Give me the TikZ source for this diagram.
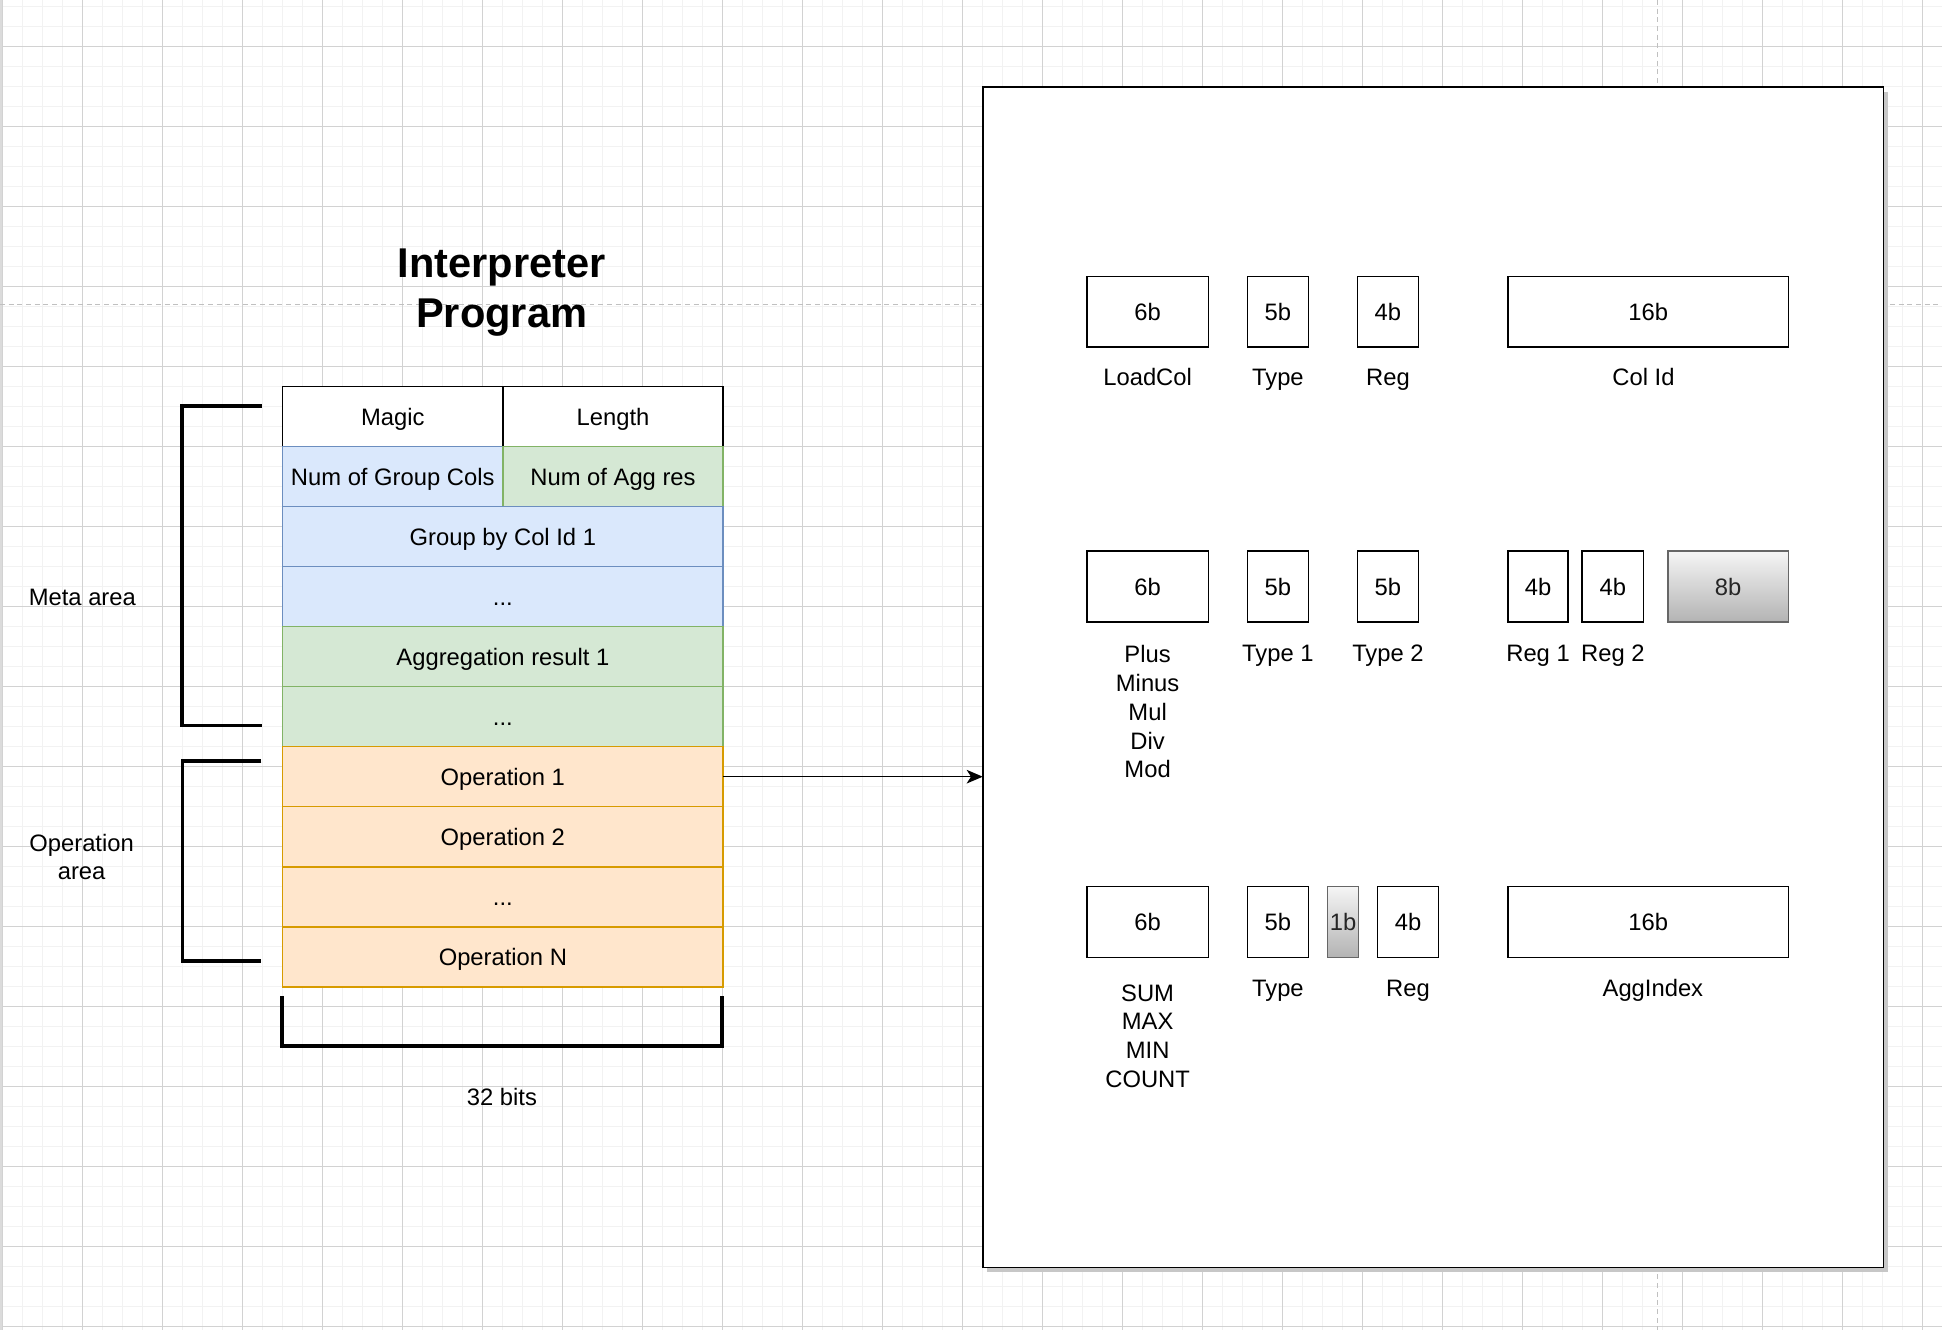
\documentclass[tikz,border=0pt]{standalone}
\usepackage{fontspec}
\setmainfont{Liberation Sans}
\usepackage{tikz}
\usetikzlibrary{positioning}
\usetikzlibrary{arrows.meta}
\usetikzlibrary{shadows}

\definecolor{blueFill}{HTML}{DAE8FC}
\definecolor{blueLine}{HTML}{6C8EBF}
\definecolor{greenFill}{HTML}{D5E8D4}
\definecolor{greenLine}{HTML}{82B366}
\definecolor{orangeFill}{HTML}{FFE6CC}
\definecolor{orangeLine}{HTML}{D79B00}
\definecolor{padTop}{HTML}{F5F5F5}
\definecolor{padBottom}{HTML}{B3B3B3}
\definecolor{padLine}{HTML}{666666}
\definecolor{gridMinor}{HTML}{F2F2F2}
\definecolor{gridMajor}{HTML}{D2D2D2}
\definecolor{pageLine}{HTML}{C0C0C0}

\begin{document}
\begin{tikzpicture}[x=1pt, y=-1pt,
		every node/.style={
			font=\fontsize{19.2pt}{23.2pt}\selectfont,
			inner sep=0pt, outer sep=0pt,
			text height=13.75pt, text depth=0pt,
		},
		lines/.style={align=center, text height={}, text depth={}},
		title/.style={lines, font=\fontsize{33.6pt}{40.4pt}\selectfont\bfseries},
		cell/.style={draw, line width=1.3pt, minimum width=355.7pt, minimum height=48.45pt},
		half/.style={cell, minimum width=177.85pt},
		head/.style={fill=white, draw=black},
		grpcell/.style={fill=blueFill, draw=blueLine},
		aggcell/.style={fill=greenFill, draw=greenLine},
		opcell/.style={cell, fill=orangeFill, draw=orangeLine},
		bracket/.style={line width=3pt},
		field/.style={draw, line width=1.3pt, fill=white, minimum height=57.3pt},
		pad/.style={field, draw=padLine, top color=padTop, bottom color=padBottom, text=black!85},
	]
	\useasboundingbox (0,0) rectangle (1568,1074);
	
	\foreach \i in {0,...,97}
		\draw[gridMinor, line width=1.2pt] ({1.86+16.15*\i},0) --++(0,1074);
	\foreach \i in {0,...,66}
		\draw[gridMinor, line width=1.2pt] (0,{5.09+16.15*\i}) --++(1568,0);
	\foreach \i in {0,...,24}
		\draw[gridMajor, line width=.8pt] ({1.85+64.6*\i},0) --++(0,1074);
	\foreach \i in {0,...,16}
		\draw[gridMajor, line width=.8pt] (0,{37.38+64.6*\i}) --++(1568,0);
	\draw[black!14, line width=1.4pt] (0.7,0) --++(0,1074);
	\draw[pageLine, line width=1pt, dash pattern=on 4pt off 3pt] (0,245.7) --++(1568,0);
	\draw[pageLine, line width=1pt, dash pattern=on 4pt off 3pt] (1338,0) --++(0,1074);
	
	\node[title] (title) at (405.1,236.5) {Interpreter\\Program};
	
	\node[half, head] (magic) at (317.1,336.4) {Magic};
	\node[half, head, right=0pt of magic] (length) {Length};
	\node[half, grpcell, below=0pt of magic] (ngrp) {Num of Group Cols};
	\node[half, aggcell, right=0pt of ngrp] (nagg) {Num of Agg res};
	\node[cell, grpcell, below=0pt of ngrp.south east] (grp) {Group by Col Id 1};
	\node[cell, grpcell, below=0pt of grp] (grpdots) {...};
	\node[cell, aggcell, below=0pt of grpdots] (agg) {Aggregation result 1};
	\node[cell, aggcell, below=0pt of agg] (aggdots) {...};
	\node[opcell, below=0pt of aggdots] (op1) {Operation 1};
	\node[opcell, below=0pt of op1] (op2) {Operation 2};
	\node[opcell, below=0pt of op2] (opdots) {...};
	\node[opcell, below=0pt of opdots] (opn) {Operation N};
	
	\draw[bracket] (211.4,327.6) -| (146.8,585.7) -- (211.4,585.7);
	\draw[bracket] (211.1,614.2) -| (147.3,775.8) -- (211.1,775.8);
	\draw[bracket] (227.6,804) |- (582.9,844.5) -- (582.9,804);
	
	\node (metaname) at (66.5,482) {Meta area};
	\node[lines] (opname) at (65.9,692) {Operation\\area};
	\node (bits) at (405.3,886) {32 bits};
	
	\node[draw, line width=1.4pt, fill=white, minimum width=727.2pt, minimum height=952.8pt,
		drop shadow={shadow xshift=3.5pt, shadow yshift=-4pt, fill=black!22, opacity=1}] (instr) at (1157.1,546.9) {};
	\draw[line width=1.3pt, -{Stealth[length=13pt, width=11pt, inset=3.5pt]}] (op1.east) -- (op1.east -| instr.west);
	
	\node[field, minimum width=98pt] (ldop) at (926.6,251.75) {6b};
	\node[field, minimum width=49.4pt, right=31.5pt of ldop] (ldtype) {5b};
	\node[field, minimum width=49.5pt, right=39.4pt of ldtype] (ldreg) {4b};
	\node[field, minimum width=226.3pt, right=72.2pt of ldreg] (ldcol) {16b};
	\node[below=17pt of ldop] (ldopname) {LoadCol};
	\node[below=17pt of ldtype] (ldtypename) {Type};
	\node[below=17pt of ldreg] (ldregname) {Reg};
	\node[below=17pt of ldcol, xshift=-3.8pt] (ldcolname) {Col Id};
	
	\node[field, minimum width=98pt] (arop) at (926.6,473.75) {6b};
	\node[field, minimum width=49.4pt, right=31.5pt of arop] (artype1) {5b};
	\node[field, minimum width=49.5pt, right=39.4pt of artype1] (artype2) {5b};
	\node[field, minimum width=48.5pt, right=72.2pt of artype2] (arreg1) {4b};
	\node[field, minimum width=49.5pt, right=11.4pt of arreg1] (arreg2) {4b};
	\node[pad, minimum width=97.2pt, right=19.7pt of arreg2] (arpad) {8b};
	\node[lines] (aropname) at (926.6,574.7) {Plus\\Minus\\Mul\\Div\\Mod};
	\node[below=18.3pt of artype1] (artype1name) {Type 1};
	\node[below=18.3pt of artype2] (artype2name) {Type 2};
	\node[below=18.3pt of arreg1] (arreg1name) {Reg 1};
	\node[below=18.3pt of arreg2] (arreg2name) {Reg 2};
	
	\node[field, minimum width=98pt] (agop) at (926.6,744.45) {6b};
	\node[field, minimum width=49.4pt, right=31.5pt of agop] (agtype) {5b};
	\node[pad, minimum width=24.9pt, right=15.4pt of agtype] (agflag) {1b};
	\node[field, minimum width=49.5pt, right=15.3pt of agflag] (agreg) {4b};
	\node[field, minimum width=226.3pt, right=56pt of agreg] (agidx) {16b};
	\node[lines] (agopname) at (926.6,836.5) {SUM\\MAX\\MIN\\COUNT};
	\node[below=17.6pt of agtype] (agtypename) {Type};
	\node[below=17.6pt of agreg] (agregname) {Reg};
	\node[below=17.6pt of agidx, xshift=3.8pt] (agidxname) {AggIndex};
\end{tikzpicture}
\end{document}
